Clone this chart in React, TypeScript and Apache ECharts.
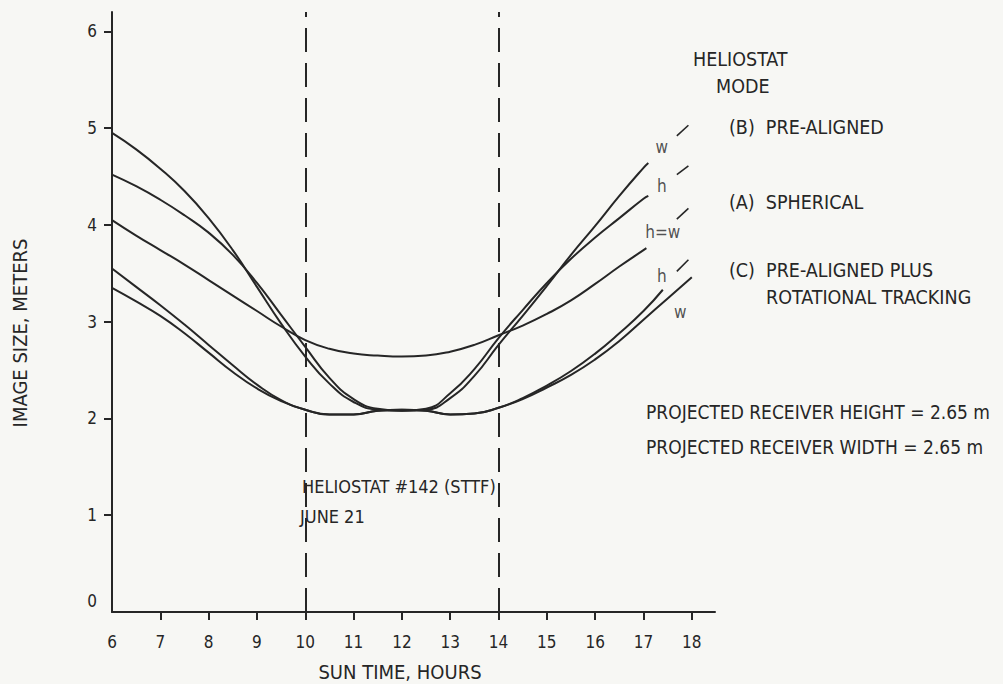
import React, { useEffect, useRef } from "react";
import * as echarts from "echarts";

// Image size (meters) versus sun time (hours) for heliostat #142, June 21
const B_WIDTH: [number, number][] = [
  [6, 4.95], [6.5, 4.78], [7, 4.58], [7.5, 4.35], [8, 4.07], [8.5, 3.74], [9, 3.36],
  [9.5, 2.98], [10, 2.64], [10.5, 2.36], [11, 2.17], [11.5, 2.09], [12, 2.08],
  [12.5, 2.09], [13, 2.21], [13.5, 2.44], [14, 2.76], [14.5, 3.06], [15, 3.37],
  [15.5, 3.69], [16, 3.99], [16.5, 4.3], [17, 4.59], [17.1, 4.64],
];
const B_HEIGHT: [number, number][] = [
  [6, 4.52], [6.5, 4.4], [7, 4.26], [7.5, 4.1], [8, 3.92], [8.5, 3.69], [9, 3.4],
  [9.5, 3.07], [10, 2.74], [10.5, 2.42], [11, 2.2], [11.5, 2.1], [12, 2.08],
  [12.5, 2.1], [13, 2.26], [13.5, 2.51], [14, 2.83], [14.5, 3.12], [15, 3.4],
  [15.5, 3.65], [16, 3.87], [16.5, 4.07], [17, 4.27], [17.1, 4.3],
];
const A_SPHERICAL: [number, number][] = [
  [6, 4.05], [6.5, 3.89], [7, 3.74], [7.5, 3.59], [8, 3.43], [8.5, 3.27], [9, 3.11],
  [9.5, 2.95], [10, 2.81], [10.5, 2.72], [11, 2.67], [11.5, 2.65], [12, 2.64],
  [12.5, 2.65], [13, 2.69], [13.5, 2.76], [14, 2.86], [14.5, 2.96], [15, 3.08],
  [15.5, 3.22], [16, 3.39], [16.5, 3.57], [17, 3.74], [17.06, 3.76],
];
const C_HEIGHT: [number, number][] = [
  [6, 3.55], [6.5, 3.36], [7, 3.17], [7.5, 2.97], [8, 2.76], [8.5, 2.55], [9, 2.35],
  [9.5, 2.19], [10, 2.09], [10.5, 2.04], [11, 2.04], [11.5, 2.08], [12, 2.09],
  [12.5, 2.08], [13, 2.04], [13.5, 2.05], [14, 2.11], [14.5, 2.21], [15, 2.34],
  [15.5, 2.49], [16, 2.67], [16.5, 2.88], [17, 3.11], [17.4, 3.33],
];
const C_WIDTH: [number, number][] = [
  [6, 3.35], [6.5, 3.21], [7, 3.06], [7.5, 2.88], [8, 2.68], [8.5, 2.48], [9, 2.31],
  [9.5, 2.18], [10, 2.09], [10.5, 2.04], [11, 2.04], [11.5, 2.08], [12, 2.09],
  [12.5, 2.08], [13, 2.04], [13.5, 2.05], [14, 2.11], [14.5, 2.2], [15, 2.32],
  [15.5, 2.45], [16, 2.61], [16.5, 2.8], [17, 3.02], [17.5, 3.24], [18, 3.46],
];

// short continuation strokes past the curve labels
const CONTINUATIONS: [number, number][][] = [
  [[17.69, 4.92], [17.93, 5.03]],
  [[17.69, 4.52], [17.93, 4.61]],
  [[17.69, 4.06], [17.93, 4.17]],
  [[17.69, 3.52], [17.93, 3.64]],
];

const CURVE_LABELS = ["w", "h", "h=w", "h", "w"];
const CURVE_LABEL_AT: [number, number][] = [
  [17.38, 4.8], [17.38, 4.4], [17.4, 3.93], [17.38, 3.47], [17.76, 3.1],
];

const X_TICKS = [6, 7, 8, 9, 10, 11, 12, 13, 14, 15, 16, 17, 18];
const Y_TICKS = [0, 1, 2, 3, 4, 5, 6];
const WINDOW_HOURS = [10, 14];

const INK = "#262626";
const PAPER = "#f7f7f4";
const FONT = "'Liberation Sans Narrow', 'DejaVu Sans Condensed', 'Roboto Condensed', 'Liberation Sans', sans-serif";

export default function App() {
  const ref = useRef<HTMLDivElement>(null);

  useEffect(() => {
    if (!ref.current) return;
    const chart = echarts.init(ref.current, undefined, { renderer: "svg" });

    const curve = (name: string, data: [number, number][]) => ({
      name,
      type: "line",
      data,
      smooth: 0.5,
      showSymbol: false,
      lineStyle: { color: INK, width: 2 },
      z: 3,
    });

    const text = (x: number, y: number, t: string, size = 18, extra: any = {}) => ({
      type: "text",
      x,
      y,
      style: { text: t, fill: INK, font: `${size}px ${FONT}`, textVerticalAlign: "middle", ...extra },
    });

    chart.setOption({
      animation: false,
      backgroundColor: PAPER,
      grid: { left: 112, right: 288, top: 12, bottom: 72 },
      xAxis: {
        type: "value",
        min: 6,
        max: 18.48,
        interval: 1,
        axisLine: { lineStyle: { color: INK, width: 2 } },
        axisTick: { show: true, length: 8, customValues: X_TICKS.slice(1), lineStyle: { color: INK, width: 2 } },
        axisLabel: { customValues: X_TICKS, color: INK, fontSize: 17, fontFamily: FONT, margin: 21 },
        splitLine: { show: false },
      },
      yAxis: {
        type: "value",
        min: 0,
        max: 6.2,
        interval: 1,
        axisLine: { show: true, lineStyle: { color: INK, width: 2 } },
        axisTick: { show: true, length: 8, customValues: Y_TICKS.slice(1), lineStyle: { color: INK, width: 2 } },
        axisLabel: {
          customValues: Y_TICKS,
          color: INK,
          fontSize: 17,
          fontFamily: FONT,
          margin: 15,
          formatter: (v: number) => (v === 0 ? "{z|0}" : String(v)),
          rich: { z: { fontSize: 17, fontFamily: FONT, color: INK, padding: [0, 0, 22, 0] } },
        },
        splitLine: { show: false },
      },
      series: [
        {
          ...curve("B w", B_WIDTH),
          markLine: {
            silent: true,
            symbol: "none",
            label: { show: false },
            lineStyle: { color: INK, width: 2, type: [24, 11] },
            data: WINDOW_HOURS.map((h) => ({ xAxis: h })),
          },
        },
        curve("B h", B_HEIGHT),
        curve("A h=w", A_SPHERICAL),
        curve("C h", C_HEIGHT),
        curve("C w", C_WIDTH),
        ...CONTINUATIONS.map((seg, i) => ({
          name: `cont ${i}`,
          type: "line",
          data: seg,
          showSymbol: false,
          lineStyle: { color: INK, width: 1.6 },
        })),
        {
          name: "curve labels",
          type: "scatter",
          symbolSize: 0,
          data: CURVE_LABEL_AT.map((p, i) => ({ value: p, name: CURVE_LABELS[i] })),
          label: {
            show: true,
            position: "inside",
            formatter: (p: any) => p.name,
            color: INK,
            fontSize: 17,
            fontFamily: FONT,
          },
          z: 4,
        },
      ],
      graphic: [
        {
          type: "text",
          x: 20,
          y: 333,
          rotation: Math.PI / 2,
          style: { text: "IMAGE SIZE, METERS", fill: INK, font: `20px ${FONT}`, align: "center", verticalAlign: "middle" },
        },
        text(400, 672, "SUN TIME, HOURS", 20, { textAlign: "center" }),
        text(302, 486, "HELIOSTAT #142 (STTF)", 18),
        text(300, 516, "JUNE 21", 18),
        text(693, 59, "HELIOSTAT", 19.5),
        text(716, 86, "MODE", 19.5),
        text(729, 127, "(B)  PRE-ALIGNED", 19.5),
        text(729, 202, "(A)  SPHERICAL", 19.5),
        text(729, 270, "(C)  PRE-ALIGNED PLUS", 19.5),
        text(766, 297, "ROTATIONAL TRACKING", 19.5),
        text(646, 412, "PROJECTED RECEIVER HEIGHT = 2.65 m", 19),
        text(646, 447, "PROJECTED RECEIVER WIDTH = 2.65 m", 19),
      ],
    });

    return () => chart.dispose();
  }, []);

  return (
    <div
      ref={ref}
      style={{ position: "fixed", left: 0, top: 0, width: 1003, height: 684 }}
    />
  );
}
